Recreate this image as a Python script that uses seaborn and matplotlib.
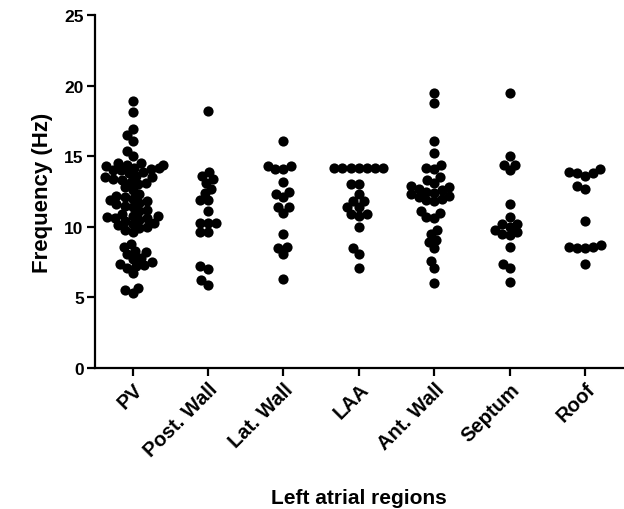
import matplotlib
matplotlib.use("Agg")
import matplotlib.pyplot as plt
import seaborn as sns
import pandas as pd

categories = ["PV", "Post. Wall", "Lat. Wall", "LAA", "Ant. Wall", "Septum", "Roof"]

pv = [18.9, 18.1, 16.9, 16.5, 16.1, 15.4, 15.0,
      14.5, 14.5, 14.4, 14.3, 14.2, 14.1, 14.0, 14.0, 14.4, 14.2,
      13.9, 13.8, 13.6, 13.5, 13.5, 13.4, 13.3, 13.2, 13.1, 13.0,
      12.8, 12.6, 12.3, 12.2, 12.1, 12.0,
      11.9, 11.8, 11.7, 11.6, 11.5, 11.4, 11.2, 11.1,
      10.9, 10.8, 10.8, 10.7, 10.6, 10.6, 10.5, 10.4, 10.3, 10.2, 10.1, 10.0,
      9.9, 9.8, 9.6,
      8.8, 8.6, 8.3, 8.2, 8.1,
      7.8, 7.7, 7.5, 7.4, 7.3, 7.2, 7.1,
      6.7, 5.7, 5.5, 5.3]
post_wall = [18.2, 13.9, 13.6, 13.4, 13.1, 12.7, 12.4, 11.9, 11.9, 11.1,
             10.3, 10.3, 10.3, 9.6, 9.6, 7.2, 7.0, 6.2, 5.9]
lat_wall = [16.1, 14.3, 14.1, 14.1, 14.3, 13.2, 12.5, 12.3, 12.1, 11.4,
            11.4, 11.0, 9.5, 8.5, 8.6, 8.1, 6.3]
laa = [14.2, 14.2, 14.2, 14.2, 14.2, 14.2, 14.2, 13.0, 13.0, 12.3, 11.8,
       11.8, 11.4, 11.4, 10.9, 10.9, 10.8, 10.0, 8.5, 8.1, 7.1]
ant_wall = [19.5, 18.8, 16.1, 15.2, 14.4, 14.2, 14.1, 13.5, 13.3, 13.1,
            12.9, 12.8, 12.7, 12.6, 12.5, 12.4, 12.3, 12.2, 12.1, 12.0,
            11.9, 11.8, 11.1, 11.0, 10.7, 10.6, 9.8, 9.5, 9.1, 8.9,
            8.5, 7.6, 7.1, 6.0]
septum = [19.5, 15.0, 14.4, 14.0, 14.4, 11.6, 10.7, 10.2, 10.2, 10.0,
          9.8, 9.6, 9.5, 9.4, 8.6, 7.4, 7.1, 6.1]
roof = [14.1, 13.9, 13.8, 13.8, 13.6, 12.9, 12.7, 10.4, 8.7, 8.6,
        8.6, 8.5, 8.5, 7.4]

series = [pv, post_wall, lat_wall, laa, ant_wall, septum, roof]
rows = []
for cat, vals in zip(categories, series):
    for v in vals:
        rows.append({"region": cat, "freq": v})
df = pd.DataFrame(rows)

sns.set_style("ticks")
plt.rcParams["font.family"] = ["Liberation Sans", "DejaVu Sans"]
plt.rcParams["text.color"] = "black"
plt.rcParams["axes.labelcolor"] = "black"
plt.rcParams["xtick.color"] = "black"
plt.rcParams["ytick.color"] = "black"

fig = plt.figure(figsize=(6.24, 5.10), dpi=100)
ax = fig.add_axes([0.152, 0.2765, 0.846, 0.692])

# layout the swarm with a smaller marker so dots overlap like the original
sns.swarmplot(data=df, x="region", y="freq", order=categories, color="black",
              size=5.6, ax=ax, linewidth=0, warn_thresh=1.0)

ax.set_ylim(0, 25)
ax.set_yticks([0, 5, 10, 15, 20, 25])
ax.set_xlim(-0.5, 6.5)
sns.despine(ax=ax)
for s in ["left", "bottom"]:
    ax.spines[s].set_linewidth(1.6)
    ax.spines[s].set_color("black")
ax.tick_params(axis="both", width=1.6, length=6, color="black", pad=2)
ax.tick_params(axis="y", labelsize=12.5)
ax.set_xticks(range(len(categories)))
ax.set_xticklabels(categories, rotation=45, ha="right", rotation_mode="anchor",
                   fontsize=14.5, fontweight="bold")
for lab in ax.get_yticklabels():
    lab.set_fontweight("bold")
ax.set_ylabel("Frequency (Hz)", fontsize=16, fontweight="bold", labelpad=8)
ax.set_xlabel("Left atrial regions", fontsize=15, fontweight="bold", labelpad=20)

fig.canvas.draw()
for coll in ax.collections:
    if "draw" in coll.__dict__:
        del coll.draw
    coll.set_sizes([54])

fig.savefig("out.png", dpi=100)
